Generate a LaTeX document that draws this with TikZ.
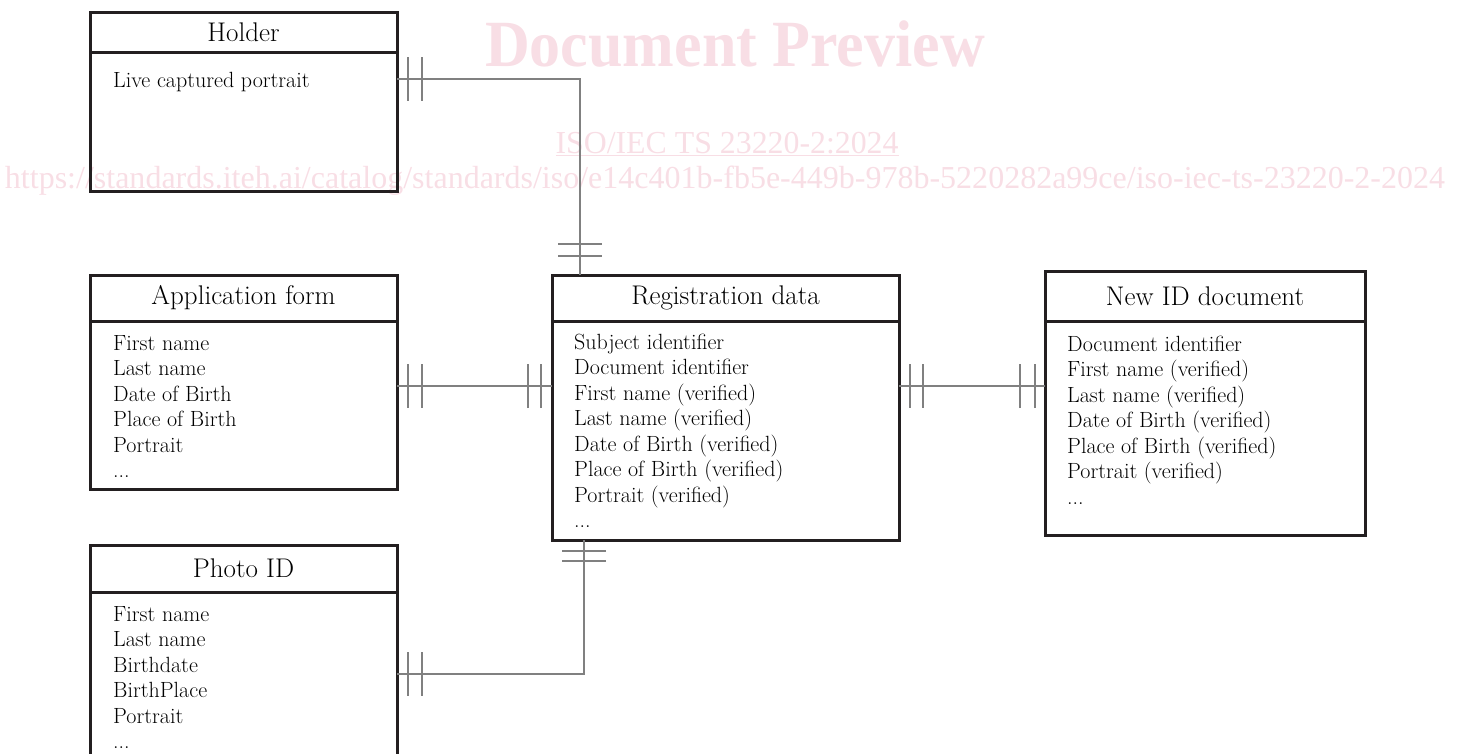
\documentclass[tikz,border=0pt]{standalone}
\usepackage{fontspec}
\newfontfamily\wmfont{Liberation Serif}
\usetikzlibrary{positioning,calc}
\definecolor{boxline}{RGB}{35,31,32}
\definecolor{linkgray}{RGB}{128,128,128}
\definecolor{wmpink}{RGB}{248,222,229}

\begin{document}
\begin{tikzpicture}[
    x=1pt, y=-1pt,
    head/.style={draw=boxline, line width=3pt, inner sep=0, outer sep=0, anchor=north west, font=\fontsize{27}{32}\selectfont},
    body/.style={draw=boxline, line width=3pt, inner sep=0, outer sep=0},
    attrs/.style={align=left, inner sep=0, anchor=north west, font=\fontsize{22}{25.5}\selectfont},
    link/.style={draw=linkgray, line width=1.1pt},
    wm/.style={text=wmpink, inner sep=0, anchor=base, font=\wmfont\fontsize{32}{32}\selectfont},
    pics/bars/.style 2 args={code={\draw[link] (#1,-22) -- (#1,22) (#2,-22) -- (#2,22);}}
]
    \useasboundingbox (0,0) rectangle (1463,753);

    % Watermark
    \node[wm, font=\wmfont\bfseries\fontsize{66}{66}\selectfont] (wmtitle) at (735,66) {\resizebox{500pt}{\height}{Document Preview}};
    \node[wm] (wmiso) at (727,153) {\resizebox{343pt}{\height}{\underline{ISO/IEC TS 23220-2:2024}}};
    \node[wm] (wmurl) at (725,188) {\resizebox{1440pt}{\height}{https://standards.iteh.ai/catalog/standards/iso/e14c401b-fb5e-449b-978b-5220282a99ce/iso-iec-ts-23220-2-2024}};

    % Holder
    \node[head, minimum width=307pt, minimum height=40pt] (holderhead) at (90,12) {Holder};
    \node[body, minimum width=307pt, minimum height=139pt, below=0pt of holderhead] (holderbody) {};
    \node[attrs] (holderattr) at ($(holderbody.north west)+(23,17)$) {\strut Live captured portrait};

    % Application form
    \node[head, minimum width=307pt, minimum height=46pt] (apphead) at (90,275) {Application form};
    \node[body, minimum width=307pt, minimum height=168pt, below=0pt of apphead] (appbody) {};
    \node[attrs] (appattr) at ($(appbody.north west)+(23,11)$) {\strut First name\\Last name\\Date of Birth\\Place of Birth\\Portrait\\...};

    % Photo ID
    \node[head, minimum width=307pt, minimum height=47pt] (photohead) at (90,545) {Photo ID};
    \node[body, minimum width=307pt, minimum height=180pt, below=0pt of photohead] (photobody) {};
    \node[attrs] (photoattr) at ($(photobody.north west)+(23,11)$) {\strut First name\\Last name\\Birthdate\\BirthPlace\\Portrait\\...};

    % Registration data
    \node[head, minimum width=347pt, minimum height=46pt] (reghead) at (552,275) {Registration data};
    \node[body, minimum width=347pt, minimum height=219pt, below=0pt of reghead] (regbody) {};
    \node[attrs] (regattr) at ($(regbody.north west)+(22,10)$) {\strut Subject identifier\\Document identifier\\First name (verified)\\Last name (verified)\\Date of Birth (verified)\\Place of Birth (verified)\\Portrait (verified)\\...};

    % New ID document
    \node[head, minimum width=320pt, minimum height=50pt] (newhead) at (1045,271) {New ID document};
    \node[body, minimum width=320pt, minimum height=214pt, below=0pt of newhead] (newbody) {};
    \node[attrs] (newattr) at ($(newbody.north west)+(22,12)$) {\strut Document identifier\\First name (verified)\\Last name (verified)\\Date of Birth (verified)\\Place of Birth (verified)\\Portrait (verified)\\...};

    % Relations (one and only one)
    \draw[link] (holderbody.east |- 0,79) -| (reghead.north -| 580,0);
    \pic at (holderbody.east |- 0,79) {bars={11}{25}};
    \pic[rotate=90] at (reghead.north -| 580,0) {bars={19}{31}};

    \draw[link] (appbody.east |- 0,386) -- (regbody.west |- 0,386);
    \pic at (appbody.east |- 0,386) {bars={11}{25}};
    \pic[rotate=180] at (regbody.west |- 0,386) {bars={11}{24}};

    \draw[link] (regbody.east |- 0,386) -- (newbody.west |- 0,386);
    \pic at (regbody.east |- 0,386) {bars={11}{24}};
    \pic[rotate=180] at (newbody.west |- 0,386) {bars={10}{25}};

    \draw[link] (photobody.east |- 0,674) -| (regbody.south -| 584,0);
    \pic at (photobody.east |- 0,674) {bars={11}{25}};
    \pic[rotate=-90] at (regbody.south -| 584,0) {bars={11}{21}};
\end{tikzpicture}
\end{document}
